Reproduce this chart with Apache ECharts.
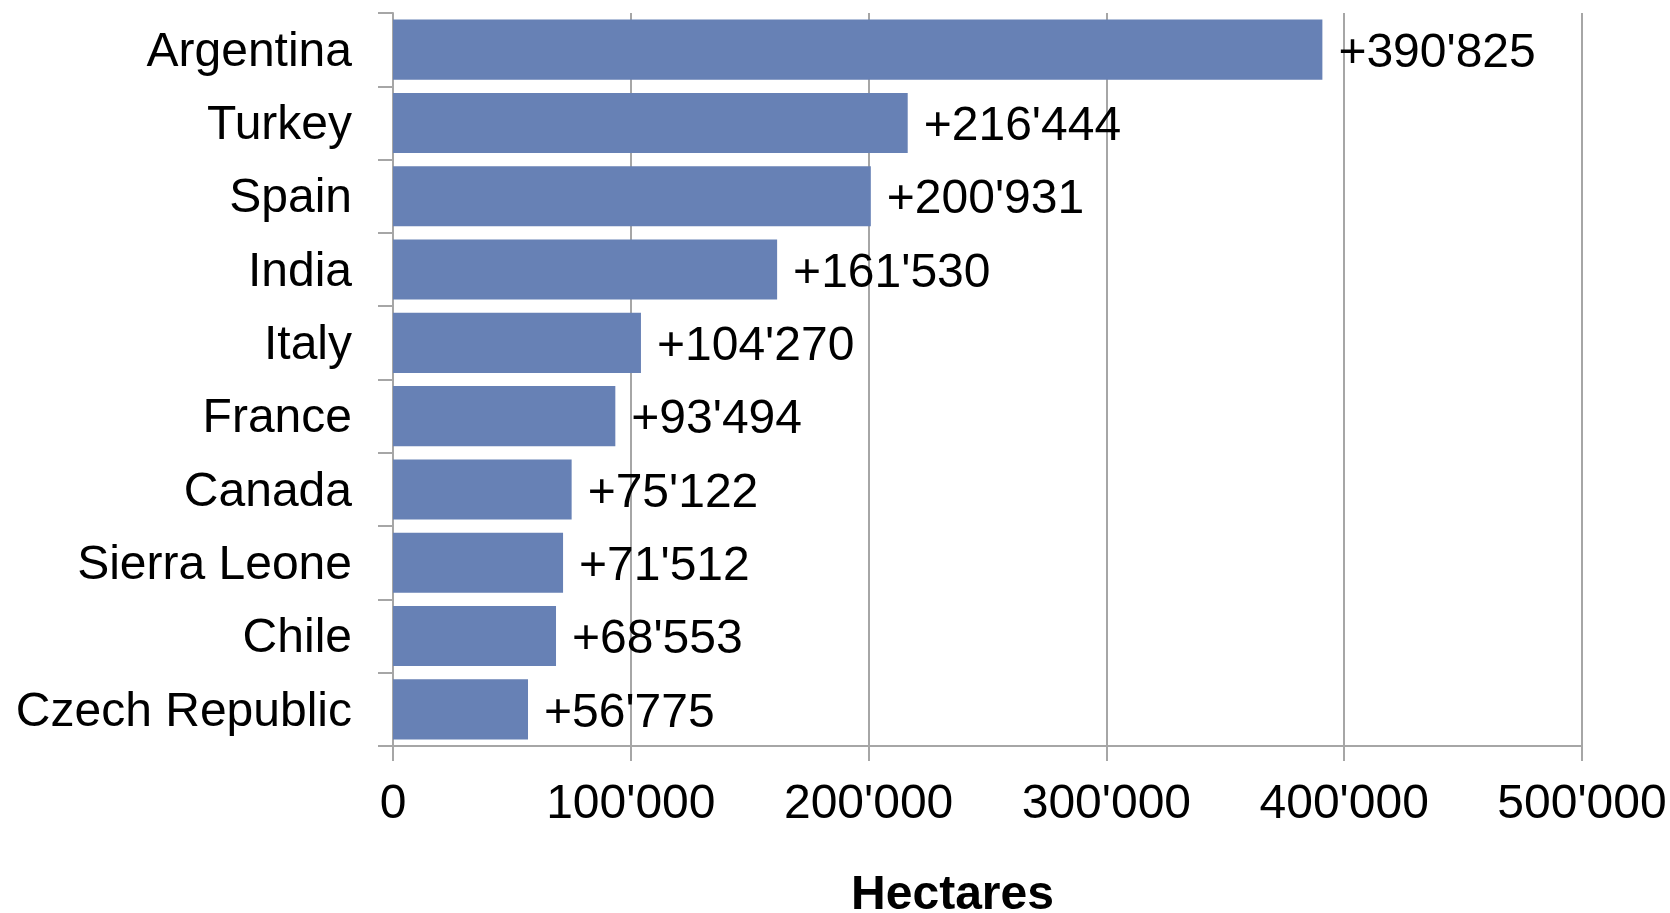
<!DOCTYPE html>
<html><head><meta charset="utf-8">
<script src="https://cdn.jsdelivr.net/npm/echarts@6/dist/echarts.min.js"></script>
<style>html,body{margin:0;padding:0;background:#fff}#c{width:1670px;height:913px}</style>
</head><body><div id="c"></div>
<script>
const categories = ["Argentina","Turkey","Spain","India","Italy","France","Canada","Sierra Leone","Chile","Czech Republic"];
const values = [390825,216444,200931,161530,104270,93494,75122,71512,68553,56775];
const xTicks = [0,100000,200000,300000,400000,500000];
const axisName = "Hectares";

function fmt(v){ return String(v).replace(/\B(?=(\d{3})+(?!\d))/g, "'"); }
const FONT = "'Liberation Sans', Arial, sans-serif";
const chart = echarts.init(document.getElementById('c'), null, {renderer:'canvas'});
chart.setOption({
  animation:false,
  grid:{left:393,right:88,top:13,bottom:167,containLabel:false,outerBoundsMode:'none'},
  xAxis:{type:'value',min:xTicks[0],max:xTicks[xTicks.length-1],interval:100000,
    name:axisName,nameLocation:'middle',nameGap:126,
    nameTextStyle:{fontSize:48,fontWeight:'bold',color:'#000',fontFamily:FONT,padding:[0,70,0,0]},
    axisLine:{show:true,lineStyle:{color:'#a6a6a6',width:2}},
    axisTick:{show:true,length:15,lineStyle:{color:'#a6a6a6',width:2}},
    splitLine:{show:true,lineStyle:{color:'#a6a6a6',width:2}},
    axisLabel:{fontSize:48,color:'#000',fontFamily:FONT,margin:35,formatter:v=>fmt(v)}
  },
  yAxis:{type:'category',data:categories,inverse:true,
    axisLine:{show:true,lineStyle:{color:'#a6a6a6',width:2}},
    axisTick:{show:true,length:15,lineStyle:{color:'#a6a6a6',width:2}},
    axisLabel:{fontSize:48,color:'#000',fontFamily:FONT,margin:41,
      formatter:v=>'{a|'+v+'}',
      rich:{a:{fontSize:48,color:'#000',fontFamily:FONT,padding:[6,0,0,0]}}}
  },
  series:[{type:'bar',data:values,barWidth:'82%',
    itemStyle:{color:'#6781b5'},
    label:{show:true,position:'right',distance:16,offset:[0,4],fontSize:48,color:'#000',fontFamily:FONT,
      formatter:p=>'+'+fmt(p.value)}
  }]
});
</script></body></html>
